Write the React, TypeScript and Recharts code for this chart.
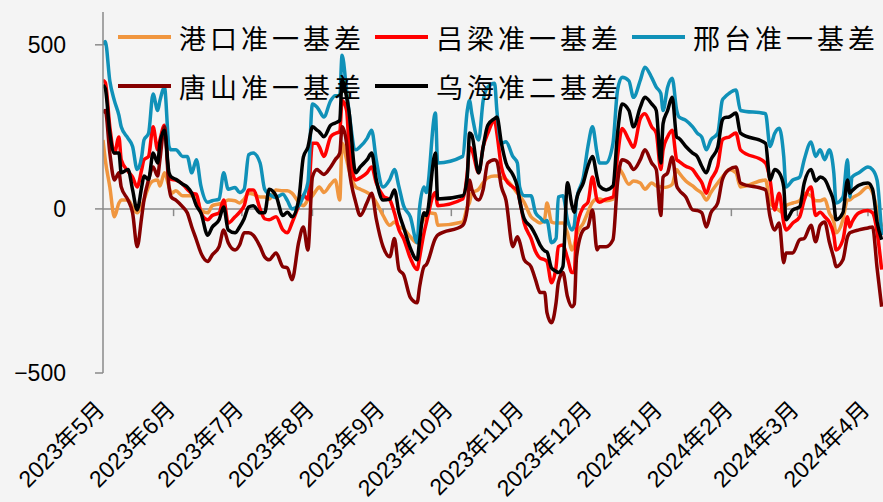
import { Legend, Line, LineChart, ReferenceLine, XAxis, YAxis } from "recharts";

// trading days, counted from 2023-05-04
const dayIndex = [
  0, 1, 3, 5, 7, 8, 11, 13, 15, 17, 18, 20, 22, 24, 25, 27, 29, 30, 32, 35,
  37, 39, 41, 43, 46, 48, 51, 53, 55, 58, 60, 62, 64, 66, 69, 71, 73, 76, 79, 81,
  83, 86, 88, 90, 92, 94, 95, 97, 100, 102, 104, 105, 107, 108, 111, 113, 116, 118, 120, 123,
  126, 128, 130, 132, 135, 138, 139, 141, 142, 146, 147, 158, 160, 161, 162, 165, 167, 169, 172, 173,
  175, 177, 180, 182, 183, 185, 188, 190, 192, 194, 195, 197, 199, 200, 202, 204, 206, 207, 208, 211,
  213, 215, 217, 218, 221, 224, 226, 228, 231, 233, 236, 238, 241, 243, 245, 246, 248, 250, 252, 253,
  256, 259, 261, 263, 265, 267, 270, 272, 273, 275, 278, 280, 291, 293, 295, 297, 299, 300, 303, 306,
  308, 311, 313, 315, 317, 319, 321, 322, 325, 327, 328, 329, 332, 336, 338, 340, 342,
];

const gangkou = [
  210, 150, 67, -24, 18, 27, 27, 6, -12, 10, 27, 67, 85, 88, 70, 110, 67, 48, 55, 40,
  40, 40, 36, -3, -12, 10, 15, 20, 27, 25, 18, 30, 48, 45, 36, 36, 30, 58, 55, 55,
  48, 20, 10, 27, 40, 60, 67, 50, 75, 88, 27, 200, 150, 120, 67, 60, 50, 40, 20, -20,
  -50, -40, -55, -60, -85, -103, -60, -30, -12, -15, -50, -40, 6, 20, 48, 60, 80, 95, 100, 100,
  95, 90, 67, 48, 40, 20, -24, -35, -43, -30, 18, -40, -43, -43, -43, -73, -125, -110, -80, -43,
  -10, 20, 30, 30, 25, 30, 128, 110, 75, 85, 79, 60, 79, 70, 67, 65, 67, 75, 120, 110,
  85, 70, 58, 48, 27, 50, 79, 97, 105, 120, 110, 67, 88, 18, 5, -5, -12, 10, 18, 25,
  48, 40, 25, 25, 30, -12, -40, -73, -33, 27, 27, 33, 45, 67, 50, -3, -55,
];

const lvliang = [
  392, 385, 250, 170, 219, 150, 115, 97, 67, 120, 150, 160, 250, 180, 210, 255, 97, 90, 88, 75,
  60, 48, 45, -12, -33, -20, -12, 27, -43, -24, -10, 10, 58, 58, 0, -30, -33, -24, -64, -73,
  -43, 10, 42, 30, 200, 200, 190, 160, 220, 230, 235, 330, 300, 200, 88, 95, 110, 128, 80, 40,
  27, -12, -64, -90, -150, -185, -150, -73, -43, 50, 10, 30, 110, 188, 180, 110, 190, 230, 270, 231,
  128, 88, 67, 55, 27, -43, -90, -130, -150, -155, -160, -225, -176, -115, -110, -150, -194, -194, -60, 6,
  20, 97, 27, 20, 30, 36, 160, 245, 210, 188, 275, 290, 250, 231, 120, 180, 220, 240, 150, 145,
  130, 120, 100, 80, 48, 88, 130, 210, 215, 219, 231, 180, 140, 88, -3, 48, -43, -64, -43, -24,
  27, 67, -20, -10, -24, -40, -80, -125, -94, -24, -55, -40, -12, -5, -12, -70, -185,
];

const xingtai = [
  500, 510, 390, 330, 285, 250, 215, 190, 120, 160, 210, 230, 350, 300, 330, 370, 190, 180, 180, 160,
  160, 110, 150, 70, 20, 25, 30, 110, 60, 65, 50, 60, 165, 170, 140, 60, 45, 35, 45, 25,
  0, 10, 40, 80, 320, 310, 300, 280, 330, 345, 345, 468, 360, 300, 180, 190, 215, 240, 150, 67,
  90, 120, 67, 10, -24, -103, 0, 67, 50, 292, 140, 160, 300, 330, 290, 210, 331, 371, 383, 300,
  200, 205, 160, 140, 67, 40, 40, -12, -27, -40, -35, -103, -90, 36, 40, -33, -64, -50, 27, 97,
  190, 250, 170, 140, 140, 200, 362, 401, 390, 340, 392, 432, 400, 371, 352, 300, 371, 398, 300, 280,
  270, 250, 231, 219, 180, 210, 230, 331, 340, 352, 362, 300, 290, 190, 230, 246, 160, 67, 88, 97,
  150, 204, 160, 180, 150, 180, 110, 18, 36, 150, 36, 97, 110, 128, 120, 88, -80,
];

const tangshan = [
  292, 300, 170, 88, 110, 67, 27, -12, -115, -24, 27, 88, 128, 100, 150, 250, 67, 36, 27, 6,
  -12, -55, -94, -134, -160, -140, -115, -64, -103, -125, -110, -73, -73, -80, -115, -146, -155, -134, -176, -180,
  -216, -100, -55, -125, 97, 120, 115, 105, 128, 150, 170, 250, 200, 128, 20, -20, 20, 48, -30, -115,
  -146, -90, -185, -200, -270, -286, -240, -176, -170, -90, -80, -50, 0, 88, 60, 27, 60, 140, 150, 145,
  67, 27, -115, -85, -100, -155, -176, -216, -255, -255, -316, -347, -286, -225, -194, -267, -298, -290, -146, -64,
  -55, -3, -125, -115, -115, -94, 80, 150, 140, 120, 150, 180, 140, 120, -20, 97, 110, 158, 70, 58,
  36, -3, -5, -12, -55, -12, 18, 88, 105, 120, 128, 79, 58, -24, -64, -43, -164, -134, -134, -94,
  -90, -50, -100, -50, -40, -100, -150, -176, -155, -85, -73, -70, -64, -58, -55, -180, -298,
];

const wuhai = [
  377, 367, 231, 170, 170, 110, 120, 58, -3, 67, 100, 90, 170, 140, 200, 240, 110, 97, 90, 75,
  67, 48, 10, -12, -80, -55, -33, 6, -64, -73, -55, -30, 6, 10, -12, -12, 60, 40, -20, -10,
  -24, 30, 158, 188, 250, 240, 235, 220, 255, 262, 270, 392, 340, 300, 110, 128, 150, 170, 90, 27,
  30, 58, -12, -55, -120, -155, -100, -12, -20, 170, 30, 40, 97, 231, 225, 110, 190, 255, 275, 280,
  200, 140, 105, 67, 27, -30, -55, -80, -110, -128, -131, -180, -190, -194, -176, 80, 10, -10, 30, 80,
  130, 160, 97, 70, 58, 70, 230, 320, 300, 250, 310, 340, 320, 300, 140, 260, 300, 340, 219, 215,
  190, 170, 160, 130, 110, 150, 188, 270, 278, 280, 292, 231, 200, 88, 120, 110, 67, -33, -3, 6,
  79, 120, 85, 97, 90, 60, 18, -33, -12, 88, 48, 55, 72, 79, 60, -40, -94,
];

const seriesKeys = ["gangkou", "lvliang", "xingtai", "tangshan", "wuhai"];
const seriesNames = ["港口准一基差", "吕梁准一基差", "邢台准一基差", "唐山准一基差", "乌海准二基差"];
const seriesColors = ["#F0963F", "#FF0000", "#1091B8", "#860000", "#000000"];

const monthTickDays = [0, 31, 61, 92, 123, 153, 184, 214, 245, 276, 305, 336];
const monthLabels = [
  "2023年5月", "2023年6月", "2023年7月", "2023年8月", "2023年9月", "2023年10月",
  "2023年11月", "2023年12月", "2024年1月", "2024年2月", "2024年3月", "2024年4月",
];
const yTicks = [-500, 0, 500];

const chartData = dayIndex.map((day, i) => ({
  day,
  gangkou: gangkou[i],
  lvliang: lvliang[i],
  xingtai: xingtai[i],
  tangshan: tangshan[i],
  wuhai: wuhai[i],
}));

const axisGray = "#8a8a8a";
const numFont = "'Liberation Sans', Arial, 'Noto Sans CJK SC', sans-serif";

const MonthTick = (props: any) => {
  const { x, y, index } = props;
  return (
    <text
      x={0}
      y={0}
      transform={`translate(${x + 3}, ${y + 38}) rotate(-45)`}
      textAnchor="end"
      fontSize={23}
      fontFamily={numFont}
      fill="#000"
    >
      {monthLabels[index]}
    </text>
  );
};

const renderLegend = () => (
  <div style={{ position: "relative", width: 883, height: 110 }}>
    {seriesNames.map((name, i) => {
      const row = i < 3 ? 0 : 1;
      const col = i < 3 ? i : i - 3;
      return (
        <div
          key={name}
          style={{
            position: "absolute",
            left: 118 + col * 257,
            top: 18 + row * 49,
            height: 38,
            display: "flex",
            alignItems: "center",
            whiteSpace: "nowrap",
          }}
        >
          <span
            style={{
              display: "inline-block",
              width: 53,
              height: 4,
              background: seriesColors[i],
              marginRight: 8,
            }}
          />
          <span
            style={{
              fontFamily: "'Noto Sans CJK SC', sans-serif",
              fontSize: 27,
              letterSpacing: 4,
              color: "#000",
            }}
          >
            {name}
          </span>
        </div>
      );
    })}
  </div>
);

export default function App() {
  return (
    <div
      style={{
        position: "absolute",
        left: 0,
        top: 0,
        width: 883,
        height: 502,
        background: "#f4f4f4",
        overflow: "hidden",
      }}
    >
      <LineChart
        width={883}
        height={502}
        data={chartData}
        margin={{ top: 12, right: 0, left: 0, bottom: 0 }}
      >
        <XAxis
          dataKey="day"
          type="number"
          domain={[0, 342.6]}
          allowDataOverflow
          ticks={monthTickDays}
          interval={0}
          axisLine={false}
          tickLine={false}
          tickSize={0}
          tickMargin={0}
          height={129}
          tick={<MonthTick />}
        />
        <YAxis
          domain={[-500, 600]}
          ticks={yTicks}
          allowDataOverflow
          width={103}
          tickSize={8}
          tickMargin={29}
          axisLine={{ stroke: axisGray, strokeWidth: 1.5 }}
          tickLine={{ stroke: axisGray, strokeWidth: 1.5 }}
          tick={{ fontSize: 23, fill: "#000", fontFamily: numFont }}
          tickFormatter={(v: number) => (v < 0 ? `\u2212${Math.abs(v)}` : `${v}`)}
        />
        <ReferenceLine y={0} stroke={axisGray} strokeWidth={1.5} />
        {monthTickDays.slice(1).map((d) => (
          <ReferenceLine
            key={d}
            segment={[
              { x: d, y: 0 },
              { x: d, y: -22 },
            ]}
            stroke={axisGray}
            strokeWidth={1.5}
          />
        ))}
        {seriesKeys.map((key, i) => (
          <Line
            key={key}
            type="monotone"
            dataKey={key}
            name={seriesNames[i]}
            stroke={seriesColors[i]}
            strokeWidth={3.5}
            dot={false}
            isAnimationActive={false}
          />
        ))}
        <Legend
          layout="vertical"
          align="center"
          verticalAlign="middle"
          wrapperStyle={{ top: 0, left: 0, width: 883, height: 110 }}
          content={renderLegend}
        />
      </LineChart>
    </div>
  );
}
